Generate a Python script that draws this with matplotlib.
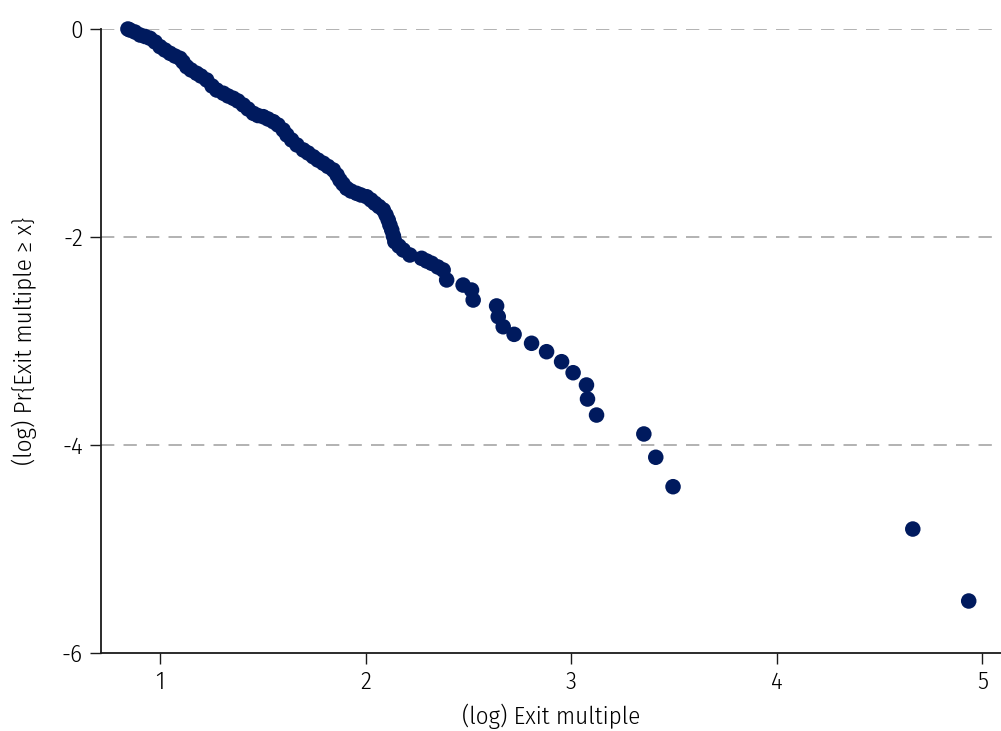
import numpy as np
import matplotlib
matplotlib.use('Agg')
import matplotlib.pyplot as plt

plt.rcParams['font.family'] = ['Fira Sans Condensed', 'Roboto', 'DejaVu Sans']
plt.rcParams['font.weight'] = 300
plt.rcParams['axes.labelweight'] = 300

# (log) exit multiple and (log) Pr{Exit multiple >= x}
log_multiple = [
    0.844, 0.854, 0.878, 0.903, 0.927, 0.951, 0.976, 1.000, 1.024, 1.049,
    1.073, 1.097, 1.112, 1.130, 1.151, 1.178, 1.199, 1.227, 1.253, 1.276,
    1.308, 1.331, 1.356, 1.379, 1.405, 1.428, 1.454, 1.476, 1.502, 1.525,
    1.551, 1.574, 1.599, 1.617, 1.640, 1.666, 1.697, 1.720, 1.745, 1.768,
    1.794, 1.817, 1.843, 1.861, 1.875, 1.890, 1.908, 1.929, 1.956, 1.977,
    2.005, 2.026, 2.045, 2.065, 2.086, 2.099, 2.110, 2.118, 2.127, 2.135,
    2.142, 2.162, 2.183, 2.215, 2.272, 2.297, 2.321, 2.351, 2.377, 2.394,
    2.474, 2.515, 2.523, 2.637, 2.645, 2.669, 2.722, 2.807, 2.880, 2.953,
    3.009, 3.074, 3.079, 3.123, 3.353, 3.411, 3.495, 4.661, 4.933,
]
log_prob = [
    0.000, -0.010, -0.029, -0.058, -0.072, -0.089, -0.125, -0.170, -0.202, -0.234,
    -0.260, -0.282, -0.317, -0.363, -0.394, -0.426, -0.452, -0.490, -0.548, -0.587,
    -0.618, -0.644, -0.666, -0.692, -0.731, -0.769, -0.811, -0.832, -0.843, -0.865,
    -0.891, -0.923, -0.971, -1.019, -1.067, -1.115, -1.163, -1.192, -1.228, -1.260,
    -1.291, -1.322, -1.356, -1.404, -1.452, -1.490, -1.532, -1.558, -1.580, -1.596,
    -1.613, -1.644, -1.676, -1.707, -1.740, -1.788, -1.837, -1.885, -1.933, -1.990,
    -2.045, -2.087, -2.125, -2.173, -2.205, -2.231, -2.253, -2.288, -2.317, -2.413,
    -2.462, -2.510, -2.606, -2.663, -2.766, -2.863, -2.936, -3.022, -3.103, -3.199,
    -3.305, -3.423, -3.558, -3.712, -3.894, -4.118, -4.401, -4.808, -5.500,
]

x_ticks = [1, 2, 3, 4, 5]
y_ticks = [0, -2, -4, -6]
grid_lines = [0, -2, -4]

fig = plt.figure(figsize=(10.01, 7.31), dpi=100)
ax = fig.add_axes([101 / 1001, 1 - 653 / 731, 1 - 101 / 1001, (653 - 29) / 731])

for g in grid_lines:
    ax.axhline(g, color='#a6a6a6', linewidth=1.2, linestyle=(0, (8, 5.5)), zorder=1)

ax.scatter(log_multiple, log_prob, s=125, color='#001a5e', edgecolors='none',
           zorder=3, clip_on=False)

ax.set_xlim(0.713, 5.09)
ax.set_ylim(-6, 0)
ax.set_xticks(x_ticks)
ax.set_yticks(y_ticks)
ax.set_xticklabels([str(v) for v in x_ticks], fontweight=300)
ax.set_yticklabels([str(v) for v in y_ticks], fontweight=300)

for side in ['top', 'right']:
    ax.spines[side].set_visible(False)
for side in ['left', 'bottom']:
    ax.spines[side].set_linewidth(1.3)
    ax.spines[side].set_color('#1a1a1a')

ax.tick_params(axis='both', direction='out', length=8, width=1, color='#1a1a1a',
               labelsize=18, labelcolor='#000000', pad=5)

ax.set_xlabel('(log) Exit multiple', fontsize=18, color='#000000', labelpad=7)
ax.set_ylabel('(log) Pr{Exit multiple \u2265 x}', fontsize=18, color='#000000', labelpad=18)

fig.savefig('out.png', dpi=100)
